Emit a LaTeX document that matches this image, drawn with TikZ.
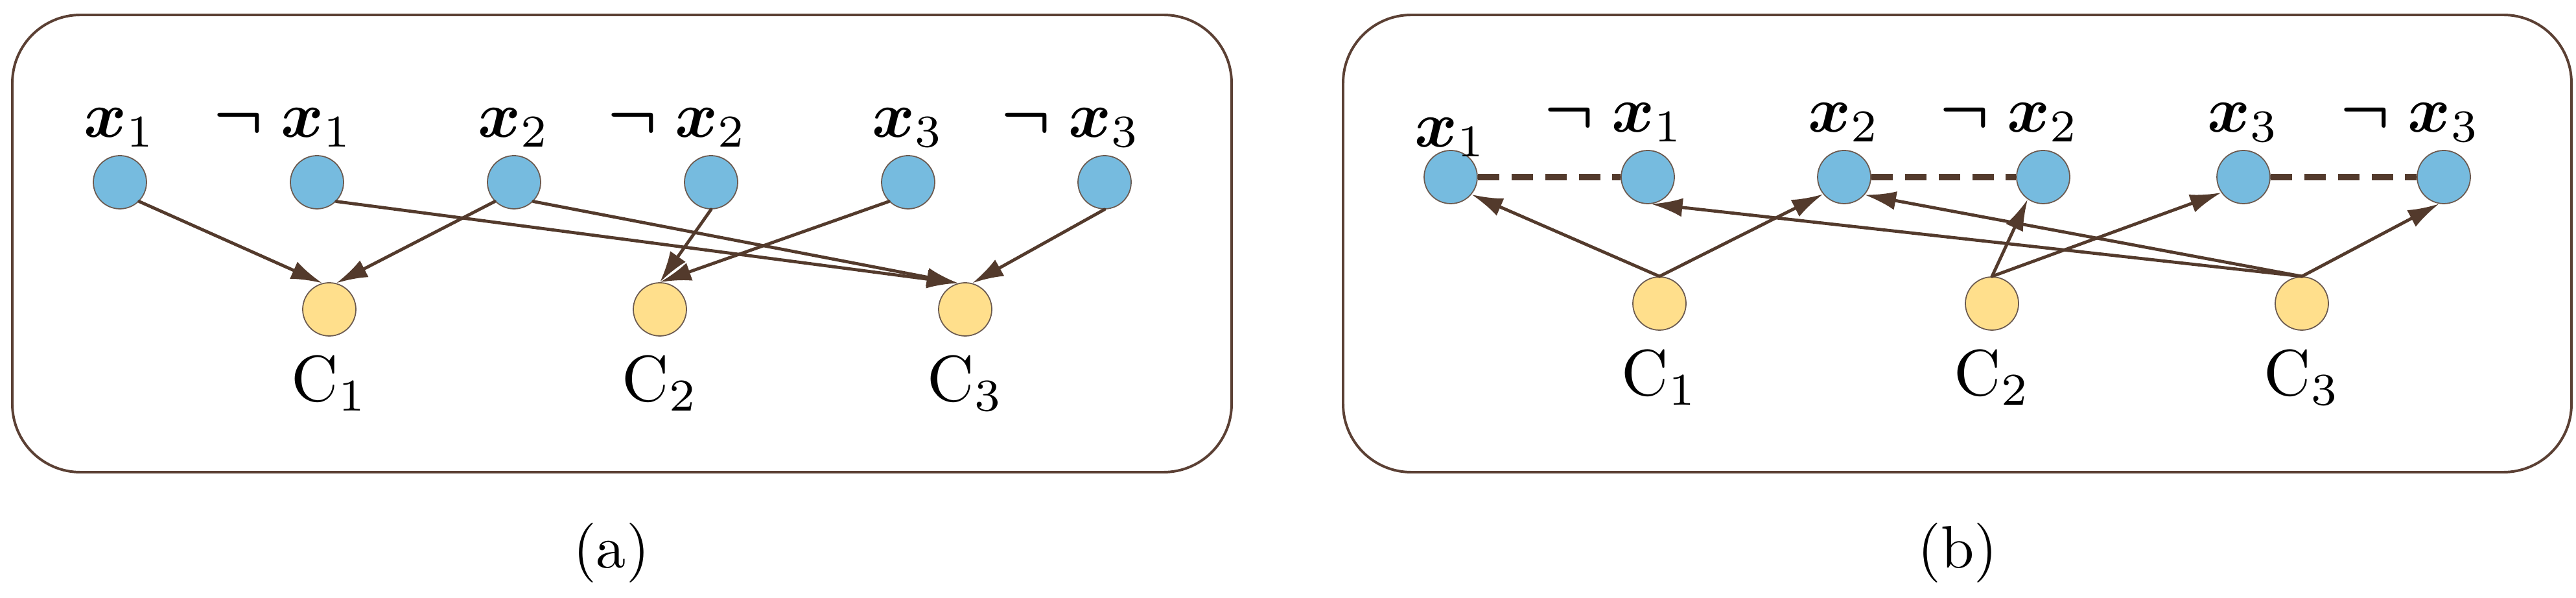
\documentclass[tikz,border=0pt]{standalone}
\usepackage{fix-cm}
\usepackage{amsmath}
\usetikzlibrary{arrows.meta}
\definecolor{litblue}{HTML}{76BBDF}
\definecolor{clsyellow}{HTML}{FFDF8C}
\definecolor{rimcol}{HTML}{6B5A50}
\definecolor{linkcol}{HTML}{533A2C}
\definecolor{framecol}{HTML}{5B4034}
\newcommand{\xl}[1]{$\boldsymbol{x}_{#1}$}
\newcommand{\nxl}[1]{\llap{$\boldsymbol{\neg}\;$}$\boldsymbol{x}_{#1}$}
\newcommand{\cname}[1]{$\mathrm{C}_{#1}$}
\begin{document}
\begin{tikzpicture}[scale=0.4,line join=round,line cap=round,>={Latex[length=5.5pt,width=3.3pt]},
	font=\fontsize{11.4}{13.7}\selectfont,
	lit/.style={circle,draw=rimcol,line width=0.2pt,fill=litblue,inner sep=0pt,minimum size=0.328cm},
	cls/.style={lit,fill=clsyellow},
	toplbl/.style={anchor=base,label distance=0.112cm},
	botlbl/.style={anchor=base,label distance=0.40cm},
	link/.style={->,draw=linkcol,line width=0.55pt},
	pair/.style={draw=linkcol,line width=1.1pt,dash pattern=on 3.8pt off 2.1pt,line cap=butt},
	frame/.style={draw=framecol,line width=0.45pt,rounded corners=0.42cm}]
	\useasboundingbox (0,0) rectangle (39.74,9.22);
	\draw[frame] (0.19,1.94) rectangle (19.00,8.99);
	\draw[frame] (20.72,1.94) rectangle (39.67,8.99);
	% (a)
	\node[lit,label={[toplbl]above:\xl{1}}] (x1) at (1.85,6.41) {};
	\node[lit,label={[toplbl]above:\nxl{1}}] (nx1) at (4.89,6.41) {};
	\node[lit,label={[toplbl]above:\xl{2}}] (x2) at (7.93,6.41) {};
	\node[lit,label={[toplbl]above:\nxl{2}}] (nx2) at (10.97,6.41) {};
	\node[lit,label={[toplbl]above:\xl{3}}] (x3) at (14.01,6.41) {};
	\node[lit,label={[toplbl]above:\nxl{3}}] (nx3) at (17.04,6.41) {};
	\node[cls,label={[botlbl]below:\cname{1}}] (c1) at (5.08,4.45) {};
	\node[cls,label={[botlbl]below:\cname{2}}] (c2) at (10.18,4.45) {};
	\node[cls,label={[botlbl]below:\cname{3}}] (c3) at (14.89,4.45) {};
	\draw[link] (x1.south east) -- (c1.105);
	\draw[link] (x2.south west) -- (c1.75);
	\draw[link] (nx1.south east) -- (c3.105);
	\draw[link] (x2.south east) -- (c3.105);
	\draw[link] (nx2.south) -- (c2.north);
	\draw[link] (x3.south west) -- (c2.north);
	\draw[link] (nx3.south) -- (c3.75);
	\node (capa) at (9.43,0.70) {\fontsize{10.5}{12.6}\selectfont (a)};
	% (b)
	\node[lit,label={[toplbl,label distance=0.02cm]above:\xl{1}}] (x1b) at (22.38,6.49) {};
	\node[lit,label={[toplbl]above:\nxl{1}}] (nx1b) at (25.42,6.49) {};
	\node[lit,label={[toplbl]above:\xl{2}}] (x2b) at (28.45,6.49) {};
	\node[lit,label={[toplbl]above:\nxl{2}}] (nx2b) at (31.52,6.49) {};
	\node[lit,label={[toplbl]above:\xl{3}}] (x3b) at (34.61,6.49) {};
	\node[lit,label={[toplbl]above:\nxl{3}}] (nx3b) at (37.70,6.49) {};
	\node[cls,label={[botlbl]below:\cname{1}}] (c1b) at (25.60,4.54) {};
	\node[cls,label={[botlbl]below:\cname{2}}] (c2b) at (30.73,4.54) {};
	\node[cls,label={[botlbl]below:\cname{3}}] (c3b) at (35.51,4.54) {};
	\draw[pair] (x1b) -- (nx1b);
	\draw[pair] (x2b) -- (nx2b);
	\draw[pair] (x3b) -- (nx3b);
	\draw[link] (c1b.north) -- (x1b.-40);
	\draw[link] (c1b.north) -- (x2b.-141);
	\draw[link] (c2b.north) -- (nx2b.-125);
	\draw[link] (c2b.north) -- (x3b.-145);
	\draw[link] (c3b.north) -- (nx1b.-83);
	\draw[link] (c3b.north) -- (x2b.-41);
	\draw[link] (c3b.north) -- (nx3b.-100);
	\node (capb) at (30.20,0.70) {\fontsize{10.5}{12.6}\selectfont (b)};
\end{tikzpicture}
\end{document}
